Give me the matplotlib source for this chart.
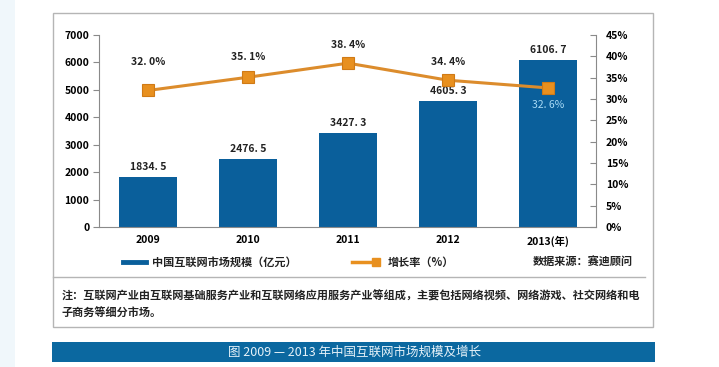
"""China internet market size 2009-2013 with growth rate (bar + line)."""

import matplotlib
matplotlib.use("Agg")
import matplotlib.pyplot as plt
from matplotlib.lines import Line2D
from matplotlib.patches import Rectangle

plt.rcParams["font.family"] = ["Noto Sans CJK SC", "DejaVu Sans"]

years = ["2009", "2010", "2011", "2012", "2013(年)"]
market_size = [1834.5, 2476.5, 3427.3, 4605.3, 6106.7]
growth_rate = [32.0, 35.1, 38.4, 34.4, 32.6]
left_ticks = [0, 1000, 2000, 3000, 4000, 5000, 6000, 7000]
right_ticks = [0, 5, 10, 15, 20, 25, 30, 35, 40, 45]

BAR_BLUE = "#0a5f9b"
ORANGE = "#e8901f"
GRID_GREY = "#8a8a8a"
W, H = 719, 367


def fx(px):
    return px / W


def fy(py):
    return 1 - py / H


fig = plt.figure(figsize=(W / 100, H / 100), dpi=100)
fig.patch.set_facecolor("white")

# page decorations: pale strip, framed box, caption bar
fig.add_artist(Rectangle((0, 0), fx(15), 1, transform=fig.transFigure,
                         facecolor="#f0f7fb", edgecolor="none", zorder=0))
fig.add_artist(Rectangle((fx(53), fy(327)), fx(653 - 53), fy(13) - fy(327),
                         transform=fig.transFigure, facecolor="none",
                         edgecolor="#b5b5b5", lw=1.0, zorder=1))
fig.add_artist(Line2D([fx(53), fx(645)], [fy(277), fy(277)],
                      transform=fig.transFigure, color="#b5b5b5", lw=1.0))
fig.add_artist(Rectangle((fx(52), fy(362)), fx(655 - 52), fy(342) - fy(362),
                         transform=fig.transFigure, facecolor="#0b68a0",
                         edgecolor="none", zorder=1))
fig.text(fx(355), fy(352), "图 2009 — 2013 年中国互联网市场规模及增长",
         ha="center", va="center", fontsize=9, color="#e6f2f9")

ax = fig.add_axes([fx(99), fy(227), fx(596 - 99), fy(35) - fy(227)])
x = list(range(len(years)))
ax.bar(x, market_size, width=0.58, color=BAR_BLUE, zorder=2)
ax.set_xlim(-0.49, 4.48)
ax.set_ylim(0, 7000)
ax.set_yticks(left_ticks)
ax.set_xticks(x)
ax.set_xticklabels(years, fontsize=7.5, fontweight="bold")
ax.tick_params(axis="x", length=0, pad=6)
ax.tick_params(axis="y", length=4, direction="out", color=GRID_GREY,
               labelsize=7.5, pad=3)
for lbl in ax.get_yticklabels():
    lbl.set_fontweight("bold")
for side in ["top", "right"]:
    ax.spines[side].set_visible(False)
for side in ["left", "bottom"]:
    ax.spines[side].set_color(GRID_GREY)
    ax.spines[side].set_linewidth(0.8)

for xi, v in zip(x, market_size):
    ax.annotate(f"{v:.1f}".replace(".", ". "), (xi, v), xytext=(0, 10),
                textcoords="offset pixels", ha="center", va="center",
                fontsize=7.5, fontweight="bold", color="#222222")

ax2 = ax.twinx()
ax2.plot(x, growth_rate, color="#dc8c2c", lw=2.2, marker="s", markersize=8,
         markerfacecolor=ORANGE, markeredgecolor="#d07a15",
         markeredgewidth=0.8, zorder=3)
ax2.set_ylim(0, 45)
ax2.set_yticks(right_ticks)
ax2.set_yticklabels([f"{t}%" for t in right_ticks])
ax2.tick_params(axis="y", length=4, direction="in", color=GRID_GREY,
                labelsize=7.5, pad=7)
for lbl in ax2.get_yticklabels():
    lbl.set_fontweight("bold")
for side in ["top", "left", "bottom"]:
    ax2.spines[side].set_visible(False)
ax2.spines["right"].set_color(GRID_GREY)
ax2.spines["right"].set_linewidth(0.8)

label_offsets = [28, 20, 18, 18, -17]
for xi, g, off in zip(x, growth_rate, label_offsets):
    inside = off < 0
    ax2.annotate(f"{g:.1f}%".replace(".", ". "), (xi, g), xytext=(0, off),
                 textcoords="offset pixels", ha="center", va="center",
                 fontsize=7.5, fontweight="normal" if inside else "bold",
                 color="#a8daf5" if inside else "#222222")

# legend row
fig.add_artist(Line2D([fx(123), fx(146)], [fy(262), fy(262)],
                      transform=fig.transFigure, color=BAR_BLUE, lw=3.5))
fig.text(fx(152), fy(262), "中国互联网市场规模（亿元）", ha="left", va="center",
         fontsize=8, fontweight="bold", color="#222222")
fig.add_artist(Line2D([fx(352), fx(376)], [fy(262), fy(262)],
                      transform=fig.transFigure, color=ORANGE, lw=2.5,
                      marker="s", markersize=6, markevery=[1],
                      markerfacecolor=ORANGE, markeredgecolor=ORANGE))
fig.text(fx(388), fy(262), "增长率（%）", ha="left", va="center",
         fontsize=8, fontweight="bold", color="#222222")
fig.text(fx(633), fy(262), "数据来源：赛迪顾问", ha="right", va="center",
         fontsize=8, fontweight="bold", color="#222222")

# note
fig.text(fx(62), fy(296),
         "注：互联网产业由互联网基础服务产业和互联网络应用服务产业等组成，"
         "主要包括网络视频、网络游戏、社交网络和电",
         ha="left", va="center", fontsize=8, fontweight="bold",
         color="#222222")
fig.text(fx(62), fy(313), "子商务等细分市场。", ha="left", va="center",
         fontsize=8, fontweight="bold", color="#222222")

fig.savefig("out.png", dpi=100)
